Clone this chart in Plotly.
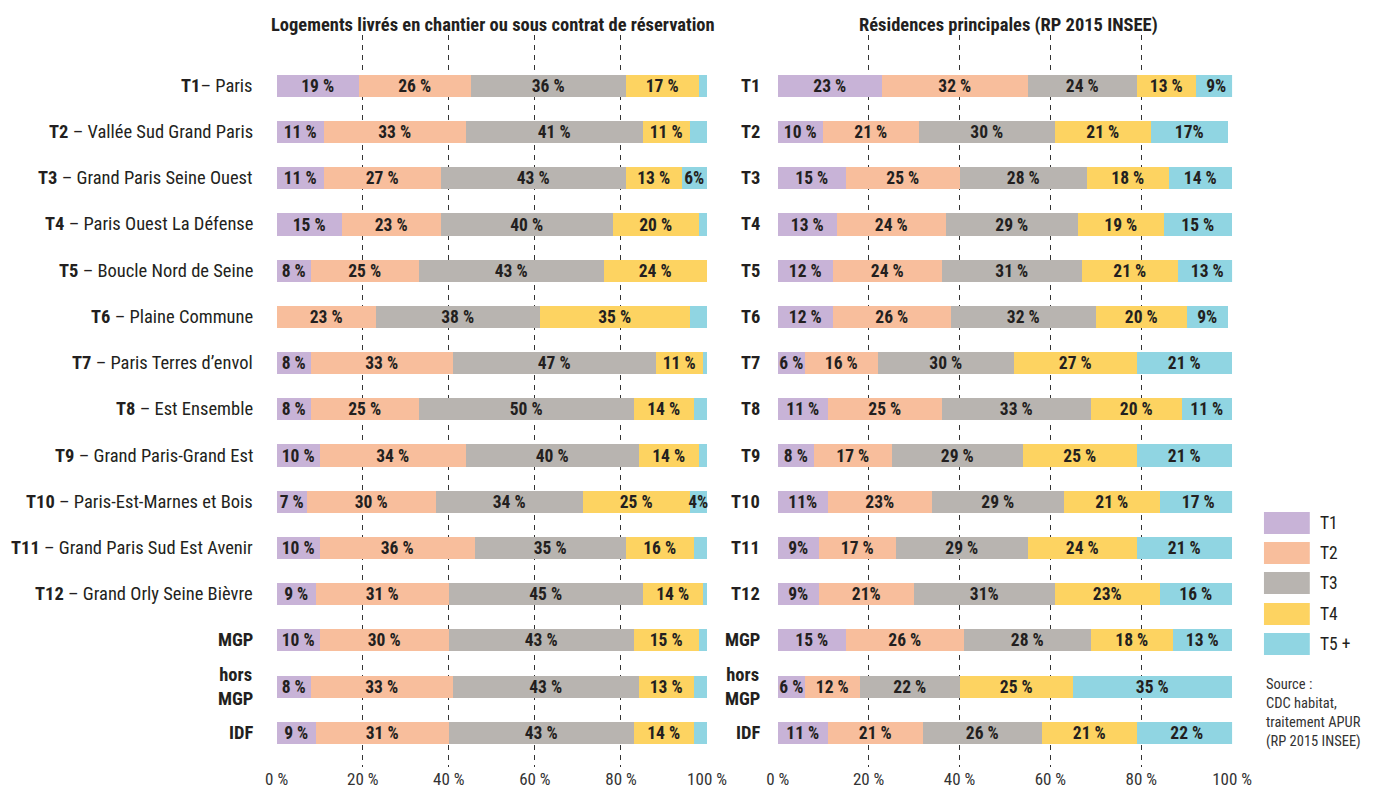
import plotly.graph_objects as go

W, H = 1373, 789

# ---------------- data ----------------
left_labels = ["<b>T1</b>– Paris", "<b>T2</b> – Vallée Sud Grand Paris", "<b>T3</b> – Grand Paris Seine Ouest",
               "<b>T4</b> – Paris Ouest La Défense", "<b>T5</b> – Boucle Nord de Seine", "<b>T6</b> – Plaine Commune",
               "<b>T7</b> – Paris Terres d’envol", "<b>T8</b> – Est Ensemble", "<b>T9</b> – Grand Paris-Grand Est",
               "<b>T10</b> – Paris-Est-Marnes et Bois", "<b>T11</b> – Grand Paris Sud Est Avenir",
               "<b>T12</b> – Grand Orly Seine Bièvre", "<b>MGP</b>", "<b>hors<br>MGP</b>", "<b>IDF</b>"]
right_labels = ["<b>T1</b>", "<b>T2</b>", "<b>T3</b>", "<b>T4</b>", "<b>T5</b>", "<b>T6</b>", "<b>T7</b>", "<b>T8</b>",
                "<b>T9</b>", "<b>T10</b>", "<b>T11</b>", "<b>T12</b>", "<b>MGP</b>", "<b>hors<br>MGP</b>", "<b>IDF</b>"]

series = ["T1", "T2", "T3", "T4", "T5 +"]
colors = ["#C8B3D7", "#F8BE9C", "#B8B4B0", "#FDD361", "#90D5E2"]

left_t1 = [19, 11, 11, 15, 8, 0, 8, 8, 10, 7, 10, 9, 10, 8, 9]
left_t2 = [26, 33, 27, 23, 25, 23, 33, 25, 34, 30, 36, 31, 30, 33, 31]
left_t3 = [36, 41, 43, 40, 43, 38, 47, 50, 40, 34, 35, 45, 43, 43, 43]
left_t4 = [17, 11, 13, 20, 24, 35, 11, 14, 14, 25, 16, 14, 15, 13, 14]
left_t5 = [2, 4, 6, 2, 0, 4, 1, 3, 2, 4, 3, 1, 2, 3, 3]
left_t5_shown = [False, False, True, False, False, False, False, False, False, True, False, False, False, False, False]

right_t1 = [23, 10, 15, 13, 12, 12, 6, 11, 8, 11, 9, 9, 15, 6, 11]
right_t2 = [32, 21, 25, 24, 24, 26, 16, 25, 17, 23, 17, 21, 26, 12, 21]
right_t3 = [24, 30, 28, 29, 31, 32, 30, 33, 29, 29, 29, 31, 28, 22, 26]
right_t4 = [13, 21, 18, 19, 21, 20, 27, 20, 25, 21, 24, 23, 18, 25, 21]
right_t5 = [9, 17, 14, 15, 13, 9, 21, 11, 21, 17, 21, 16, 13, 35, 22]

# labels printed without the space before "%": (series index, row index)
left_compact = {(4, 2), (4, 9)}
right_compact = {(4, 0), (4, 1), (4, 5), (0, 9), (1, 9), (0, 10), (0, 11), (1, 11), (2, 11), (3, 11)}

ticks = [0, 20, 40, 60, 80, 100]
tick_text = ["0 %", "20 %", "40 %", "60 %", "80 %", "100 %"]

title_left = "Logements livrés en chantier ou sous contrat de réservation"
title_right = "Résidences principales (RP 2015 INSEE)"
source_text = "Source :<br>CDC habitat,<br>traitement APUR<br>(RP 2015 INSEE)"

# ---------------- figure ----------------
FONT = "Roboto Condensed, Liberation Sans Narrow, DejaVu Sans Condensed, Roboto, sans-serif"
TXT = "#231F20"

# calibration of page pixels -> paper fractions (measured from the rendered page)
X_OFF, X_SPAN = 17.4, 1346.0
Y_OFF = 8.0

def px_x(x):
    return (x - X_OFF) / X_SPAN

def px_y(y):
    return 1 - (y - Y_OFF) / H

rows = list(range(len(left_labels)))
fig = go.Figure()

def fmt(v, s, r, compact, shown=True):
    if v == 0 or not shown:
        return ""
    return f"{v}%" if (s, r) in compact else f"{v} %"

left_series = [left_t1, left_t2, left_t3, left_t4, left_t5]
right_series = [right_t1, right_t2, right_t3, right_t4, right_t5]

BAR_FONT = dict(family=FONT, size=17.5, color=TXT, weight="bold")

for s, vals in enumerate(left_series):
    texts = []
    for r, v in enumerate(vals):
        shown = left_t5_shown[r] if s == 4 else True
        texts.append(fmt(v, s, r, left_compact, shown))
    fig.add_trace(go.Bar(x=vals, y=rows, orientation="h", marker=dict(color=colors[s], line=dict(width=0)),
                         text=texts, textposition="inside", insidetextanchor="middle", textangle=0,
                         textfont=BAR_FONT, width=0.48, xaxis="x", yaxis="y", showlegend=False,
                         name=series[s], cliponaxis=False))

for s, vals in enumerate(right_series):
    texts = [fmt(v, s, r, right_compact) for r, v in enumerate(vals)]
    fig.add_trace(go.Bar(x=vals, y=rows, orientation="h", marker=dict(color=colors[s], line=dict(width=0)),
                         text=texts, textposition="inside", insidetextanchor="middle", textangle=0,
                         textfont=BAR_FONT, width=0.48, xaxis="x2", yaxis="y2", showlegend=False,
                         name=series[s]))

yrange = [14.74, -1.10]
xaxis_common = dict(range=[0, 100], tickvals=ticks, ticktext=tick_text, showgrid=True, gridcolor="#333333",
                    griddash="5px,5px", gridwidth=1, zeroline=False, showline=False, ticks="",
                    tickfont=dict(family=FONT, size=17, color="#333333"), fixedrange=True)
yaxis_common = dict(range=yrange, showticklabels=False, showgrid=False, zeroline=False, showline=False,
                    ticks="", domain=[px_y(767), px_y(35)], fixedrange=True)

fig.update_layout(
    width=W, height=H, margin=dict(l=0, r=0, t=0, b=0),
    paper_bgcolor="white", plot_bgcolor="white", barmode="stack", bargap=0,
    font=dict(family=FONT, color=TXT),
    uniformtext=dict(minsize=17, mode="show"),
    xaxis=dict(domain=[px_x(275), px_x(707)], anchor="y", **xaxis_common),
    yaxis=dict(anchor="x", **yaxis_common),
    xaxis2=dict(domain=[px_x(778), px_x(1234)], anchor="y2", **xaxis_common),
    yaxis2=dict(anchor="x2", **yaxis_common),
)

annotations = []
annotations.append(dict(text=f"<b>{title_left}</b>", x=px_x(492), y=px_y(25), xref="paper", yref="paper",
                        showarrow=False, xanchor="center", yanchor="middle",
                        font=dict(family=FONT, size=18.5, color=TXT)))
annotations.append(dict(text=f"<b>{title_right}</b>", x=px_x(1010), y=px_y(25), xref="paper", yref="paper",
                        showarrow=False, xanchor="center", yanchor="middle",
                        font=dict(family=FONT, size=18.5, color=TXT)))
for r, lab in enumerate(left_labels):
    annotations.append(dict(text=lab, x=px_x(253), y=r, xref="paper", yref="y", showarrow=False,
                            xanchor="right", yanchor="middle", align="center",
                            font=dict(family=FONT, size=18.5, color=TXT)))
for r, lab in enumerate(right_labels):
    annotations.append(dict(text=lab, x=px_x(762), y=r, xref="paper", yref="y2", showarrow=False,
                            xanchor="right", yanchor="middle", align="center",
                            font=dict(family=FONT, size=18.5, color=TXT)))

# legend (drawn manually)
legend_tops = [512, 542, 572, 603, 633]
shapes = []
for s, top in enumerate(legend_tops):
    shapes.append(dict(type="rect", xref="paper", yref="paper", x0=px_x(1266), x1=px_x(1312),
                       y0=px_y(top + 22), y1=px_y(top), fillcolor=colors[s], line=dict(width=0)))
    annotations.append(dict(text=series[s], x=px_x(1320), y=px_y(top + 11), xref="paper", yref="paper",
                            showarrow=False, xanchor="left", yanchor="middle",
                            font=dict(family=FONT, size=17.5, color=TXT)))
annotations.append(dict(text=source_text, x=px_x(1266), y=px_y(674), xref="paper", yref="paper",
                        showarrow=False, xanchor="left", yanchor="top", align="left",
                        font=dict(family=FONT, size=14.5, color="#333333")))

fig.update_layout(annotations=annotations, shapes=shapes)
fig.write_html("out.html")
